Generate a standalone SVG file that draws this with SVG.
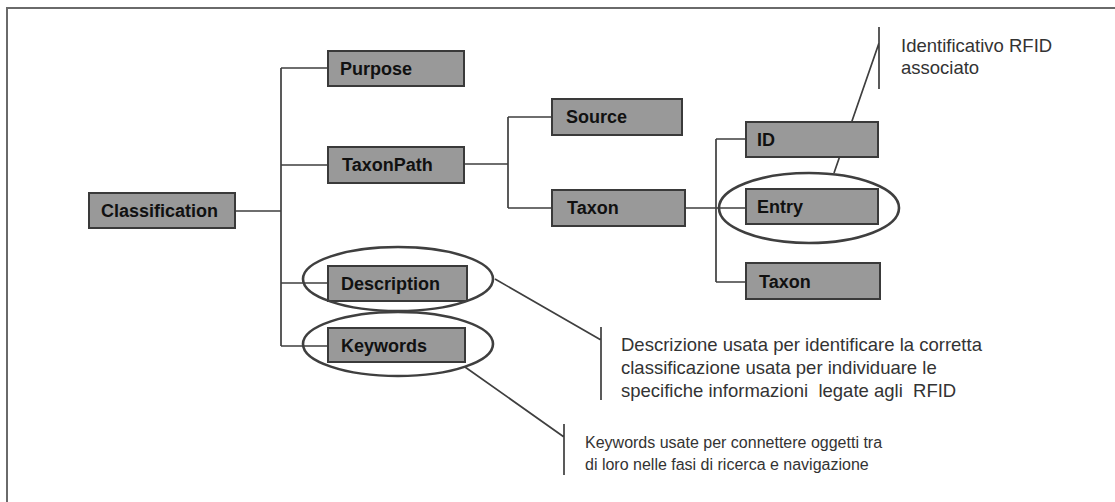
<svg xmlns="http://www.w3.org/2000/svg" width="1115" height="502" viewBox="0 0 1115 502">
<style>
.box{fill:#999;stroke:#3a3a3a;stroke-width:2}
.lbl{font-family:"Liberation Sans",Arial,sans-serif;font-weight:bold;font-size:18px;fill:#111}
.con{stroke:#3f3f3f;stroke-width:1.7;fill:none}
.ell{stroke:#3f3f3f;stroke-width:2.6;fill:none}
.note{font-family:"Liberation Sans",Arial,sans-serif;fill:#333}
.frame{stroke:#6a6a6a;stroke-width:2;fill:none}
</style>
<rect width="1115" height="502" fill="#fff"/>
<path class="frame" d="M7,502 V8 H1115"/>
<g id="connectors">
<path class="con" d="M235,211 H281 M281,68 V346 M281,68 H328 M281,165 H328 M281,283 H328 M281,346 H328"/>
<path class="con" d="M464,164 H508 M508,117 V208 M508,117 H552 M508,208 H552"/>
<path class="con" d="M685,208 H746 M716,139 V282 M716,139 H746 M716,282 H746"/>
<path class="con" d="M834,173 L879,43 M879,27 V89"/>
<path class="con" d="M495,279 L601,340 M601,327 V400"/>
<path class="con" d="M465,367 L564,437 M564,424 V475"/>
</g>
<g id="classification"><rect class="box" x="89" y="193" width="146" height="35"/><text class="lbl" x="101" y="217">Classification</text></g>
<g id="purpose"><rect class="box" x="328" y="51" width="136" height="35"/><text class="lbl" x="340" y="75">Purpose</text></g>
<g id="taxonpath"><rect class="box" x="328" y="147" width="136" height="36"/><text class="lbl" x="342" y="171">TaxonPath</text></g>
<g id="description"><rect class="box" x="328" y="266" width="139" height="35"/><text class="lbl" x="341" y="290">Description</text></g>
<g id="keywords"><rect class="box" x="328" y="328" width="137" height="34"/><text class="lbl" x="341" y="352">Keywords</text></g>
<g id="source"><rect class="box" x="552" y="99" width="130" height="36"/><text class="lbl" x="566" y="123">Source</text></g>
<g id="taxon1"><rect class="box" x="552" y="190" width="133" height="36"/><text class="lbl" x="567" y="214">Taxon</text></g>
<g id="id"><rect class="box" x="746" y="122" width="132" height="35"/><text class="lbl" x="757" y="146">ID</text></g>
<g id="entry"><rect class="box" x="746" y="189" width="132" height="35"/><text class="lbl" x="757" y="213">Entry</text></g>
<g id="taxon2"><rect class="box" x="746" y="263" width="134" height="36"/><text class="lbl" x="759" y="288">Taxon</text></g>
<g id="highlights">
<ellipse class="ell" cx="809" cy="208" rx="90" ry="35"/>
<ellipse class="ell" cx="398" cy="279" rx="95" ry="32"/>
<ellipse class="ell" cx="398" cy="344" rx="95" ry="32"/>
</g>
<g id="note-entry" class="note" font-size="18.5"><text x="901" y="52">Identificativo RFID</text><text x="901" y="74">associato</text></g>
<g id="note-description" class="note" font-size="18.5"><text x="621" y="351">Descrizione usata per identificare la corretta</text><text x="621" y="374">classificazione usata per individuare le</text><text x="621" y="397">specifiche informazioni &#160;legate agli &#160;RFID</text></g>
<g id="note-keywords" class="note" font-size="16"><text x="585" y="448">Keywords usate per connettere oggetti tra</text><text x="585" y="470">di loro nelle fasi di ricerca e navigazione</text></g>
</svg>
